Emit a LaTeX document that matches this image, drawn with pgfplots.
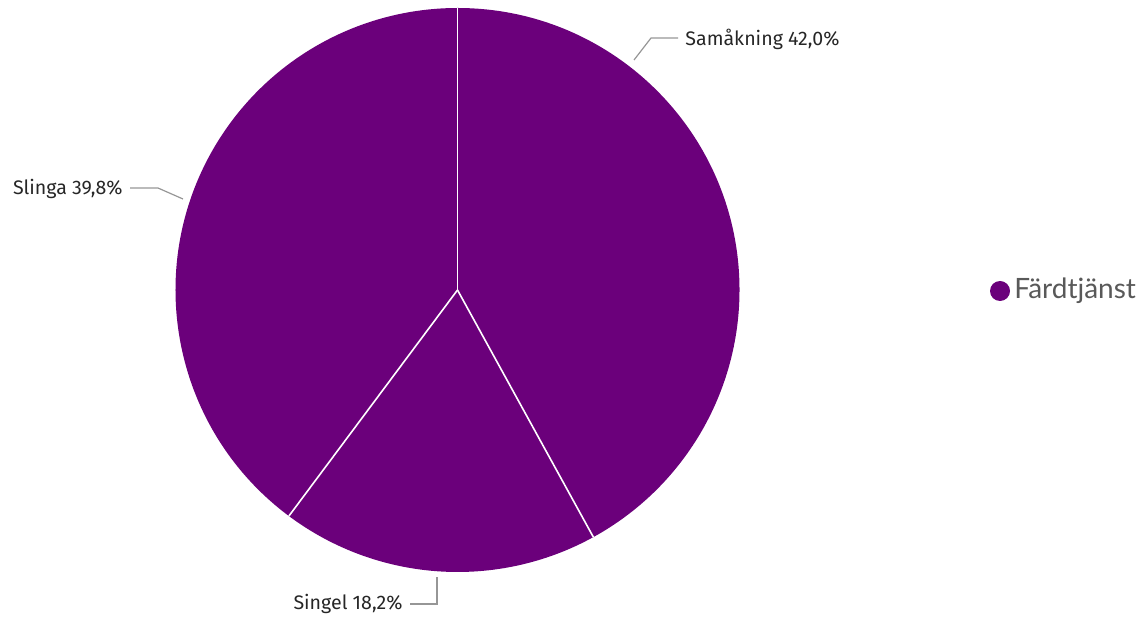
\documentclass[border=0pt]{standalone}
\usepackage{pgfplots}
\pgfplotsset{compat=1.18}
\usepackage{fontspec}
\setmainfont{Lato}
\newfontfamily\labelfont{Fira Sans}
\definecolor{pbipurple}{RGB}{107,0,123}
\definecolor{leader}{RGB}{150,150,150}
% slice shares in percent
\def\vSam{42.0}
\def\vSin{18.2}
\def\vSli{39.8}
\pgfmathsetmacro\aA{90}
\pgfmathsetmacro\aB{90-3.6*\vSam}
\pgfmathsetmacro\aC{\aB-3.6*\vSin}
\pgfmathsetmacro\aD{\aC-3.6*\vSli}
\pgfmathsetmacro\R{282*0.5}
\begin{document}
\begin{tikzpicture}
\begin{axis}[hide axis, scale only axis, x=0.5pt, y=0.5pt,
  xmin=0, xmax=1143, ymin=0, ymax=616, clip=false]
\path (axis cs:0,0) rectangle (axis cs:1143,616);
\fill[pbipurple] (axis cs:457.5,326) -- ++(\aA:\R pt) arc[start angle=\aA, end angle=\aB, radius=\R pt] -- cycle;
\fill[pbipurple] (axis cs:457.5,326) -- ++(\aB:\R pt) arc[start angle=\aB, end angle=\aC, radius=\R pt] -- cycle;
\fill[pbipurple] (axis cs:457.5,326) -- ++(\aC:\R pt) arc[start angle=\aC, end angle=\aD, radius=\R pt] -- cycle;
\draw[white, line width=0.8pt] (axis cs:457.5,326) -- ++(\aA:\R pt);
\draw[white, line width=0.8pt] (axis cs:457.5,326) -- ++(\aB:\R pt);
\draw[white, line width=0.8pt] (axis cs:457.5,326) -- ++(\aC:\R pt);
% leader lines
\draw[leader, line width=0.6pt] (axis cs:634,556) -- (axis cs:651,578) -- (axis cs:678,578);
\draw[leader, line width=0.6pt] (axis cs:130,428) -- (axis cs:158,428) -- (axis cs:183,417);
\draw[leader, line width=0.6pt] (axis cs:410,12) -- (axis cs:437,12) -- (axis cs:437,39);
% labels
\node[anchor=west, inner sep=0pt, font=\labelfont\fontsize{9.8}{11}\selectfont, text=black!85] at (axis cs:685,577) {Samåkning 42,0\%};
\node[anchor=east, inner sep=0pt, font=\labelfont\fontsize{9.8}{11}\selectfont, text=black!85] at (axis cs:123,427) {Slinga 39,8\%};
\node[anchor=east, inner sep=0pt, font=\labelfont\fontsize{9.8}{11}\selectfont, text=black!85] at (axis cs:403,12) {Singel 18,2\%};
% legend
\fill[pbipurple] (axis cs:1000,325) circle[radius=5pt];
\node[anchor=west, inner sep=0pt, font=\fontsize{14}{16}\selectfont, text=black!65] at (axis cs:1014,325) {Färdtjänst};
\end{axis}
\end{tikzpicture}
\end{document}
